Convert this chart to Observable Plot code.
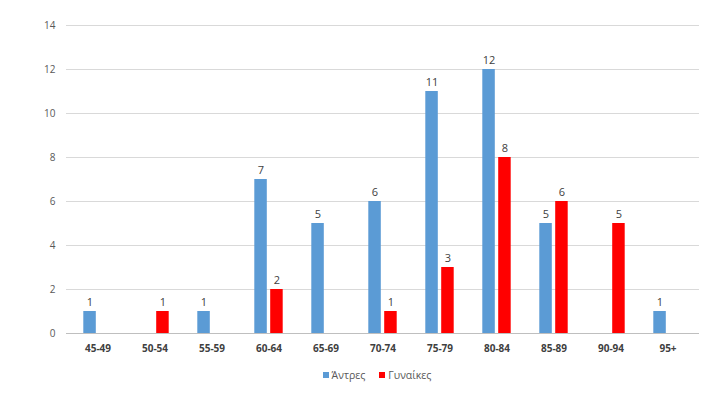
<!DOCTYPE html>
<html>
<head>
<meta charset="utf-8">
<script src="https://cdn.jsdelivr.net/npm/d3@7"></script>
<script src="https://cdn.jsdelivr.net/npm/@observablehq/plot@0.6"></script>
<style>
  body { margin: 0; background: #fff; font-family: "Open Sans", sans-serif; }
  #legend { display: flex; justify-content: center; gap: 14px; font-size: 10.5px; color: #595959; height: 22px; align-items: center; padding-left: 41px; }
  #legend span.sw { display: inline-block; width: 6px; height: 6px; margin-right: 3px; vertical-align: 1px; }
</style>
</head>
<body>
<div id="chart"></div>
<div id="legend"></div>
<script>
const ageGroups = ["45-49","50-54","55-59","60-64","65-69","70-74","75-79","80-84","85-89","90-94","95+"];
const men =   [1, 0, 1, 7, 5, 6, 11, 12, 5, 0, 1];
const women = [0, 1, 0, 2, 0, 1, 3, 8, 6, 5, 0];
const yTicks = [0, 2, 4, 6, 8, 10, 12, 14];
const seriesNames = ["Άντρες", "Γυναίκες"];
const seriesColors = ["#5B9BD5", "#FF0000"];

const menData = ageGroups.map((a, i) => ({age: a, value: men[i]}));
const womenData = ageGroups.map((a, i) => ({age: a, value: women[i]}));

const textColor = "#595959";

const chart = Plot.plot({
  width: 713,
  height: 364,
  marginLeft: 66,
  marginRight: 14,
  marginTop: 25,
  marginBottom: 31,
  style: {fontFamily: "Open Sans, sans-serif", fontSize: "10px", color: textColor, background: "#fff"},
  x: {domain: ageGroups, padding: 0, label: null, tickSize: 0, tickPadding: 11},
  y: {domain: [0, 14], ticks: yTicks, label: null, tickSize: 0, tickPadding: 11},
  marks: [
    Plot.ruleY(yTicks.filter(d => d > 0), {stroke: "#d9d9d9", strokeWidth: 1}),
    Plot.barY(menData.filter(d => d.value > 0), {x: "age", y: "value", fill: seriesColors[0], insetLeft: 14.3, insetRight: 30.2}),
    Plot.barY(womenData.filter(d => d.value > 0), {x: "age", y: "value", fill: seriesColors[1], insetLeft: 30.2, insetRight: 14.3}),
    Plot.text(menData.filter(d => d.value > 0), {x: "age", y: "value", text: d => String(d.value), dx: -8, dy: -9, fill: "#404040", fontSize: 11}),
    Plot.text(womenData.filter(d => d.value > 0), {x: "age", y: "value", text: d => String(d.value), dx: 8, dy: -9, fill: "#404040", fontSize: 11}),
    Plot.ruleY([0], {stroke: "#bfbfbf", strokeWidth: 1}),
    Plot.axisX({tickSize: 0, tickPadding: 11, fontWeight: "bold", fontSize: 10, fill: "#404040", label: null}),
    Plot.axisY({ticks: yTicks, tickSize: 0, tickPadding: 11, fontSize: 10, fill: textColor, label: null})
  ]
});
document.getElementById("chart").appendChild(chart);

const legend = document.getElementById("legend");
seriesNames.forEach((n, i) => {
  const item = document.createElement("div");
  item.innerHTML = `<span class="sw" style="background:${seriesColors[i]}"></span>${n}`;
  legend.appendChild(item);
});
</script>
</body>
</html>
